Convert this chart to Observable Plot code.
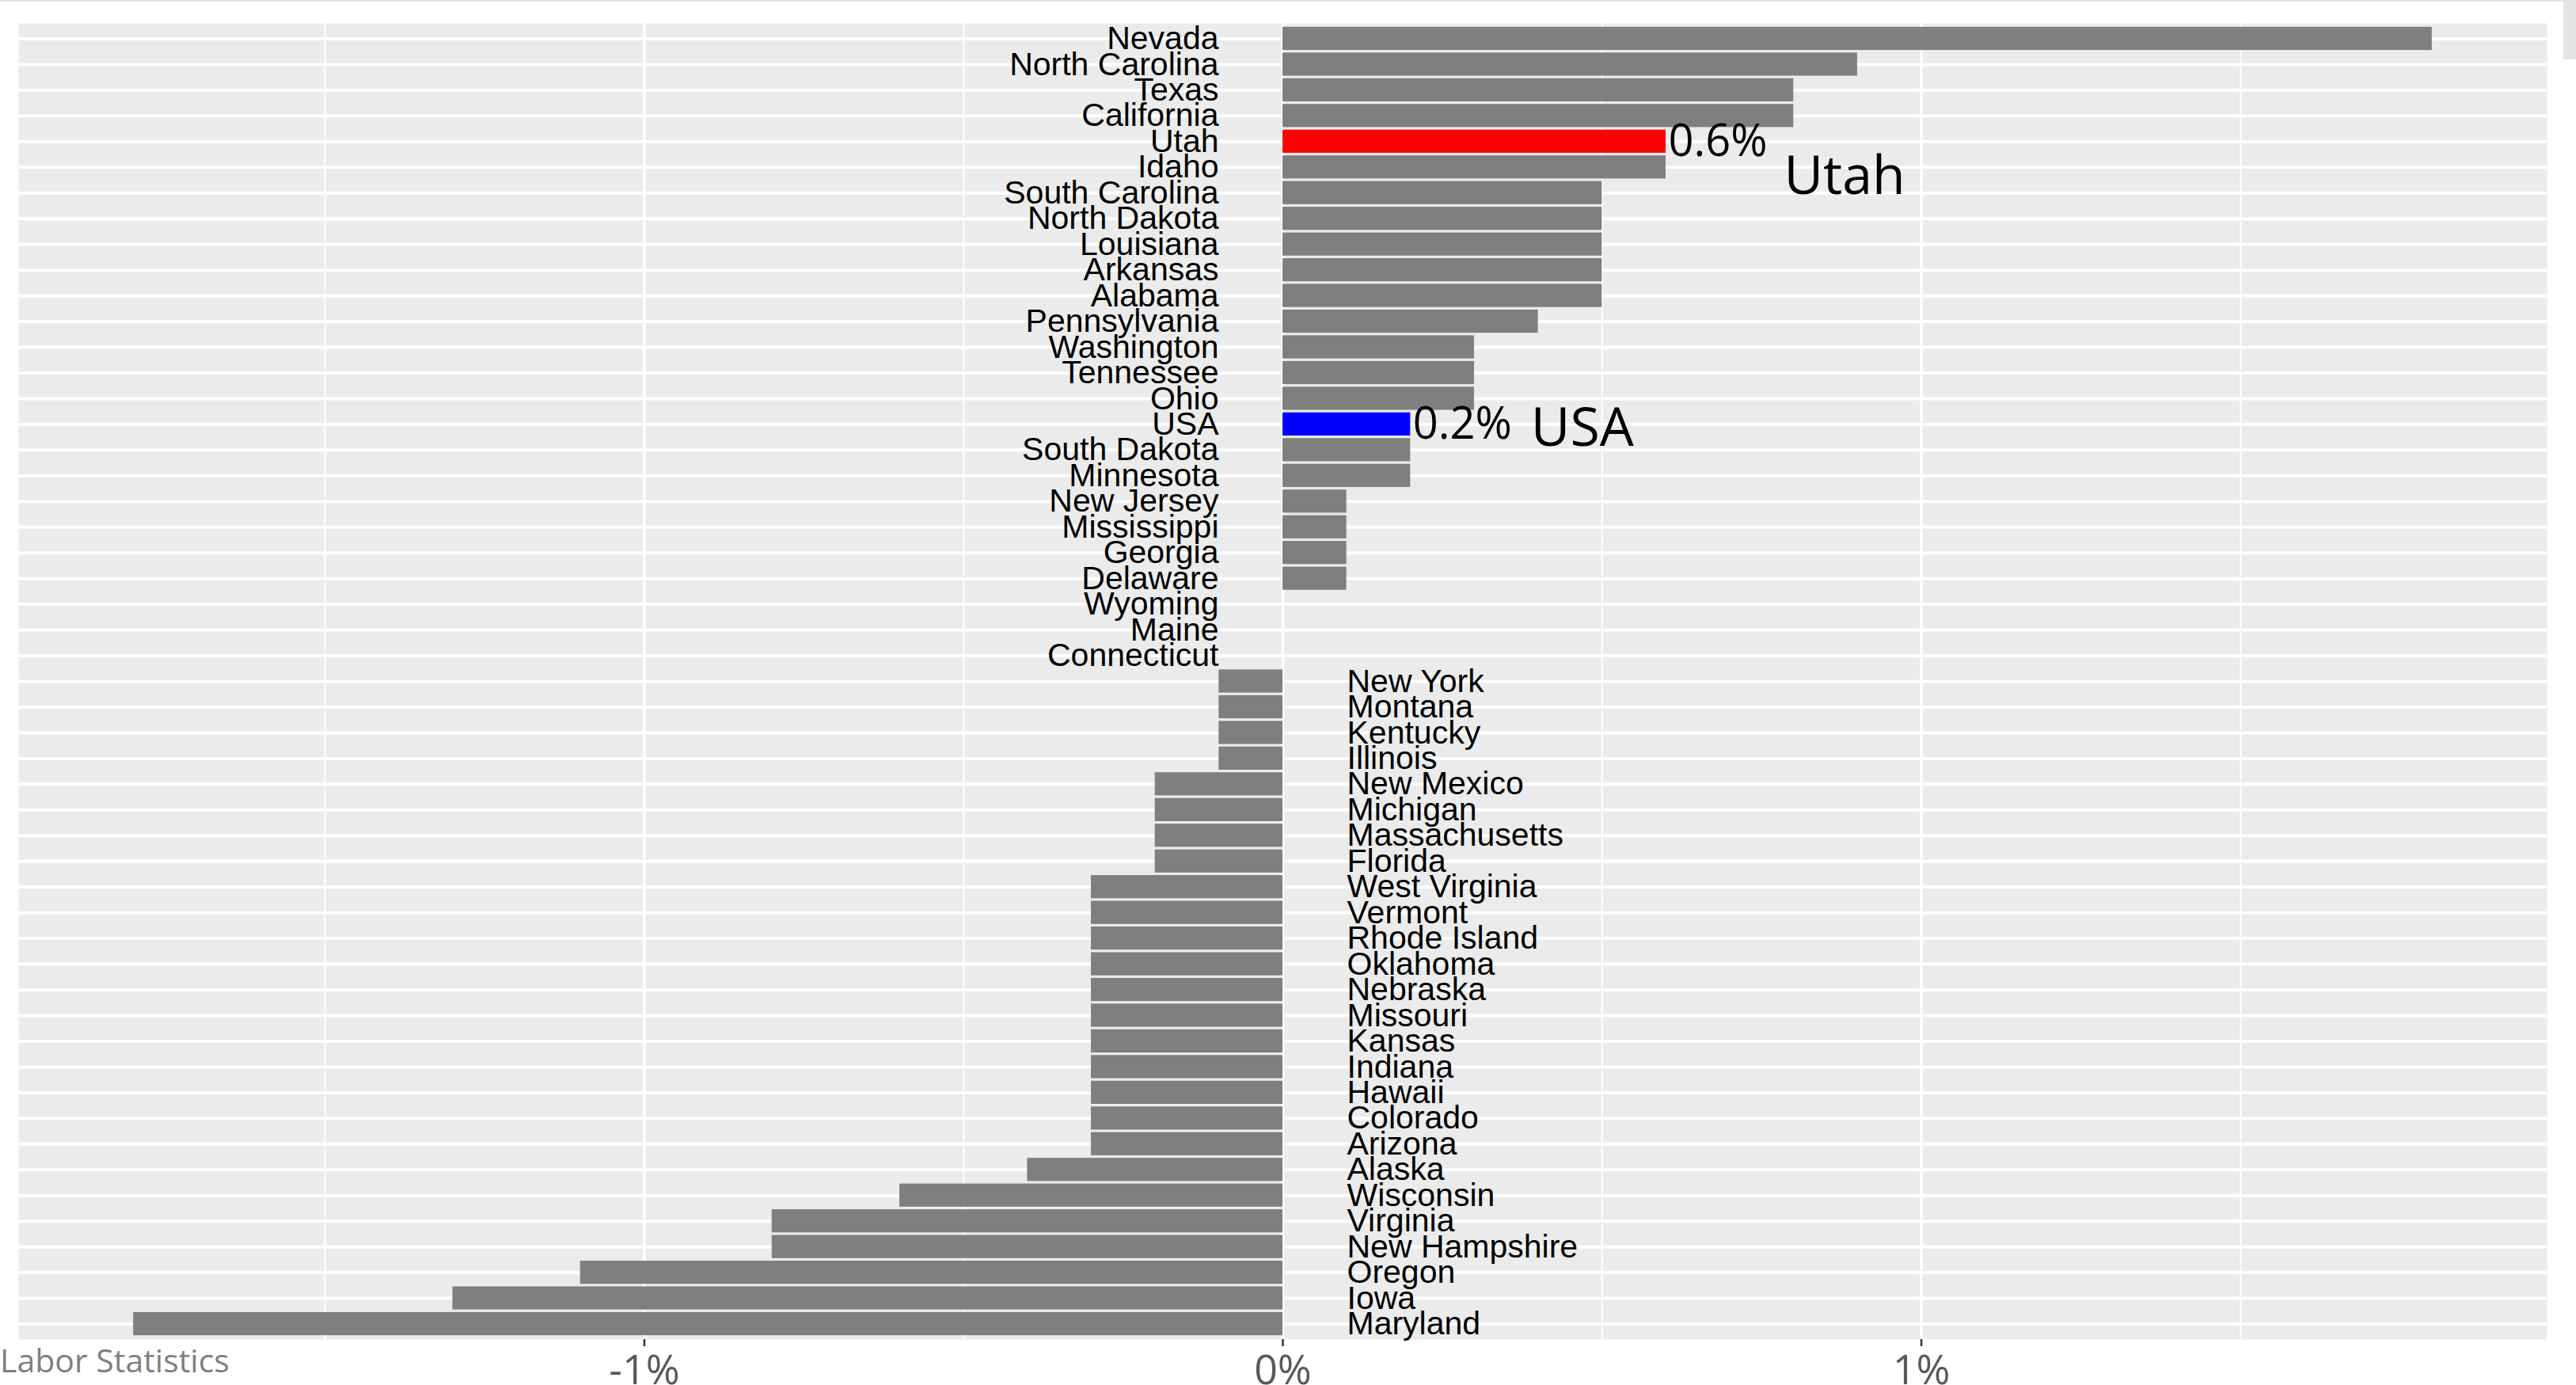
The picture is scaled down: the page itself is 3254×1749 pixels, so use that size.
<!DOCTYPE html>
<html>
<head>
<meta charset="utf-8">
<script src="https://cdn.jsdelivr.net/npm/d3@7"></script>
<script src="https://cdn.jsdelivr.net/npm/@observablehq/plot@0.6"></script>
<style>
  html, body { margin: 0; padding: 0; background: #ffffff; }
  body { width: 3254px; height: 1749px; position: relative; overflow: hidden; }
  #chart { position: absolute; left: 0; top: 0; }
  #topline { position: absolute; left: 0; top: 0; width: 3254px; height: 2px; background: #e5e5e5; }
  #rightblock { position: absolute; left: 3238px; top: 0; width: 16px; height: 75px; background: #e3e4e6; }
  #caption { position: absolute; left: 0; top: 1697px; font-family: "Open Sans", sans-serif; font-size: 41px; line-height: 1; color: #7f7f7f; white-space: nowrap; }
  #chart svg g[aria-label="x-axis tick"] path { stroke: #333333; }
  #chart svg g[aria-label="x-axis tick label"] text { fill: #595959; }
</style>
</head>
<body>
<div id="chart"></div>
<div id="topline"></div>
<div id="rightblock"></div>
<div id="caption">Labor Statistics</div>
<script>
// States ordered top to bottom as in the chart
const states = [
  "Nevada", "North Carolina", "Texas", "California", "Utah", "Idaho",
  "South Carolina", "North Dakota", "Louisiana", "Arkansas", "Alabama",
  "Pennsylvania", "Washington", "Tennessee", "Ohio", "USA", "South Dakota",
  "Minnesota", "New Jersey", "Mississippi", "Georgia", "Delaware", "Wyoming",
  "Maine", "Connecticut", "New York", "Montana", "Kentucky", "Illinois",
  "New Mexico", "Michigan", "Massachusetts", "Florida", "West Virginia",
  "Vermont", "Rhode Island", "Oklahoma", "Nebraska", "Missouri", "Kansas",
  "Indiana", "Hawaii", "Colorado", "Arizona", "Alaska", "Wisconsin",
  "Virginia", "New Hampshire", "Oregon", "Iowa", "Maryland"
];
// Percent change values
const values = [
  1.8, 0.9, 0.8, 0.8, 0.6, 0.6,
  0.5, 0.5, 0.5, 0.5, 0.5,
  0.4, 0.3, 0.3, 0.3, 0.2, 0.2,
  0.2, 0.1, 0.1, 0.1, 0.1, 0.0,
  0.0, 0.0, -0.1, -0.1, -0.1, -0.1,
  -0.2, -0.2, -0.2, -0.2, -0.3,
  -0.3, -0.3, -0.3, -0.3, -0.3, -0.3,
  -0.3, -0.3, -0.3, -0.3, -0.4, -0.6,
  -0.8, -0.8, -1.1, -1.3, -1.8
];
// Highlighted bars
const highlightStates = ["Utah", "USA"];
const highlightColors = ["#ff0000", "#0000ff"];
const highlightNames = ["Utah", "USA"];
// Axis ticks
const majorTicks = [-1, 0, 1];
const minorTicks = [-1.5, -0.5, 0.5, 1.5];
const xDomain = [-1.98, 1.98];

const data = states.map((s, i) => ({state: s, value: values[i]}));
const colorOf = new Map(highlightStates.map((s, i) => [s, highlightColors[i]]));
const highlights = highlightStates.map((s, i) => ({
  state: s, name: highlightNames[i], value: values[states.indexOf(s)]
}));
const pos = data.filter(d => d.value >= 0);
const neg = data.filter(d => d.value < 0);

const labelFont = "'Liberation Sans', Arial, sans-serif";
const annoFont = "'Open Sans', sans-serif";

const chart = Plot.plot({
  width: 3254,
  height: 1749,
  marginLeft: 23,
  marginRight: 37,
  marginTop: 29,
  marginBottom: 58,
  style: {background: "transparent", overflow: "visible"},
  x: {domain: xDomain, label: null},
  y: {domain: states, paddingInner: 0.1, paddingOuter: 0.15, round: false, axis: null, label: null},
  marks: [
    Plot.frame({fill: "#ebebeb", stroke: null}),
    Plot.gridX({ticks: minorTicks, stroke: "#ffffff", strokeOpacity: 1, strokeWidth: 2}),
    Plot.gridX({ticks: majorTicks, stroke: "#ffffff", strokeOpacity: 1, strokeWidth: 3.5}),
    Plot.gridY({stroke: "#ffffff", strokeOpacity: 1, strokeWidth: 4}),
    Plot.barX(data, {x: "value", y: "state", fill: d => colorOf.get(d.state) ?? "#7f7f7f"}),
    Plot.text(pos, {x: () => 0, y: "state", text: "state", textAnchor: "end", dx: -81,
      fontSize: 41, fontFamily: labelFont, fill: "#000000"}),
    Plot.text(neg, {x: () => 0, y: "state", text: "state", textAnchor: "start", dx: 81,
      fontSize: 41, fontFamily: labelFont, fill: "#000000"}),
    Plot.text(highlights, {x: "value", y: "state", text: d => `${d.value}%`, textAnchor: "start", dx: 3,
      fontSize: 56, fontFamily: annoFont, fill: "#000000"}),
    Plot.text(highlights.filter(d => d.name === "Utah"), {x: "value", y: "state", text: "name", textAnchor: "start",
      dx: 149, dy: 44, fontSize: 68, fontFamily: annoFont, fill: "#000000"}),
    Plot.text(highlights.filter(d => d.name === "USA"), {x: "value", y: "state", text: "name", textAnchor: "start",
      dx: 152, dy: 5, fontSize: 68, fontFamily: annoFont, fill: "#000000"}),
    Plot.axisX({ticks: majorTicks, tickFormat: d => `${d}%`, tickSize: 9, tickPadding: 11,
      strokeWidth: 2.5, fontSize: 52, fontFamily: annoFont, label: null, color: "#595959"})
  ]
});
document.getElementById("chart").appendChild(chart);
</script>
</body>
</html>
